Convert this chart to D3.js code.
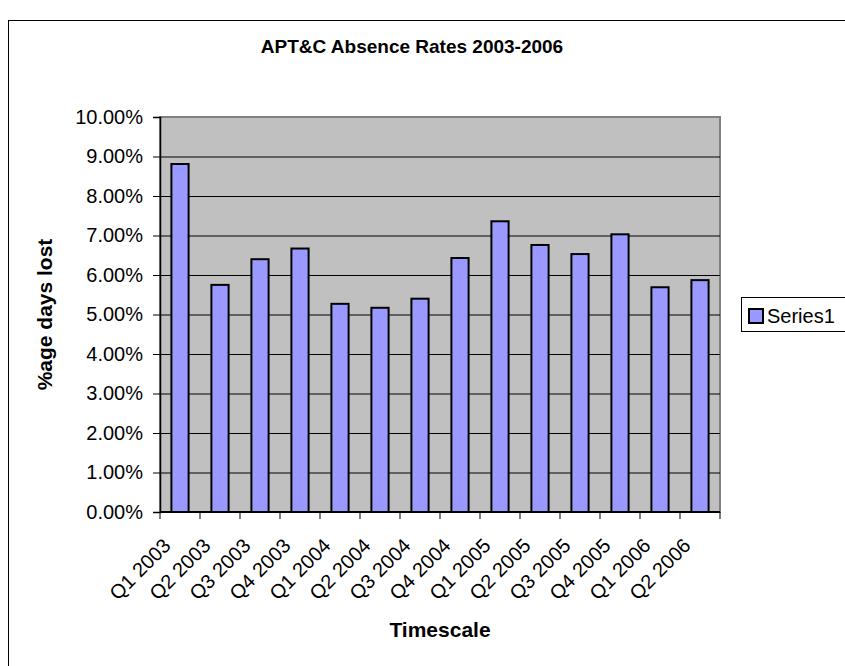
<!DOCTYPE html>
<html>
<head>
<meta charset="utf-8">
<script src="https://cdn.jsdelivr.net/npm/d3@7"></script>
<style>
  body { margin: 0; background: #fff; }
  text { font-family: "Liberation Sans", Arial, sans-serif; }
</style>
</head>
<body>
<div id="chart"></div>
<script>
var categories = ["Q1 2003","Q2 2003","Q3 2003","Q4 2003","Q1 2004","Q2 2004","Q3 2004","Q4 2004","Q1 2005","Q2 2005","Q3 2005","Q4 2005","Q1 2006","Q2 2006"];
var values = [8.81, 5.75, 6.40, 6.67, 5.27, 5.17, 5.40, 6.43, 7.36, 6.76, 6.53, 7.03, 5.69, 5.87];
var yTicks = [0, 1, 2, 3, 4, 5, 6, 7, 8, 9, 10];
var seriesName = "Series1";

var w = 845, h = 666;
var plotL = 160, plotR = 720, plotT = 117, plotB = 512;

var svg = d3.select("#chart").append("svg").attr("width", w).attr("height", h);

// chart area border (runs off the page right and bottom)
svg.append("rect").attr("x", 8.5).attr("y", 20.5).attr("width", 900).attr("height", 700)
  .attr("fill", "#fff").attr("stroke", "#000");

var x = d3.scaleBand().domain(categories).range([plotL, plotR]);
var y = d3.scaleLinear().domain([0, 10]).range([plotB, plotT]);

// plot area
svg.append("rect").attr("x", plotL).attr("y", plotT).attr("width", plotR - plotL).attr("height", plotB - plotT)
  .attr("fill", "#c0c0c0").attr("stroke", "#808080").attr("stroke-width", 2);

// gridlines
svg.selectAll(".grid").data(yTicks.slice(1, -1)).enter().append("line")
  .attr("x1", plotL).attr("x2", plotR)
  .attr("y1", function(d) { return y(d) + 0.5; })
  .attr("y2", function(d) { return y(d) + 0.5; })
  .attr("stroke", "#000").attr("stroke-width", 1);

// bars
var barW = x.bandwidth() * 0.43;
svg.selectAll(".bar").data(values).enter().append("rect")
  .attr("x", function(d, i) { return x(categories[i]) + (x.bandwidth() - barW) / 2; })
  .attr("y", function(d) { return y(d); })
  .attr("width", barW)
  .attr("height", function(d) { return plotB - y(d); })
  .attr("fill", "#9999ff").attr("stroke", "#000").attr("stroke-width", 2);

// y axis
var yAxis = svg.append("g").attr("transform", "translate(" + plotL + ",0)")
  .call(d3.axisLeft(y).tickValues(yTicks).tickSize(7).tickPadding(10)
    .tickFormat(function(d) { return d.toFixed(2) + "%"; }));
yAxis.select(".domain").attr("stroke-width", 1.5);
yAxis.selectAll("text").attr("font-size", 20).attr("fill", "#000")
  .style("font-family", "Liberation Sans, Arial, sans-serif");

// x axis line and boundary ticks
svg.append("line").attr("x1", plotL).attr("x2", plotR).attr("y1", plotB).attr("y2", plotB)
  .attr("stroke", "#000").attr("stroke-width", 2);
var bounds = categories.map(function(c) { return x(c); }).concat([x.range()[1]]);
svg.selectAll(".xtick").data(bounds).enter().append("line")
  .attr("x1", function(d) { return d; }).attr("x2", function(d) { return d; })
  .attr("y1", plotB).attr("y2", plotB + 7)
  .attr("stroke", "#000").attr("stroke-width", 1);

svg.selectAll(".xlab").data(categories).enter().append("text")
  .attr("transform", function(d) {
    return "translate(" + (x(d) + x.bandwidth() / 2 - 18) + "," + (plotB + 25) + ") rotate(-45)";
  })
  .attr("text-anchor", "end")
  .attr("dy", "0.7em")
  .attr("font-size", 20)
  .text(function(d) { return d; });

// titles
svg.append("text").attr("x", 412).attr("y", 53).attr("text-anchor", "middle")
  .attr("font-size", 19).attr("font-weight", "bold").text("APT&C Absence Rates 2003-2006");
svg.append("text").attr("x", (plotL + plotR) / 2).attr("y", 637).attr("text-anchor", "middle")
  .attr("font-size", 21).attr("font-weight", "bold").text("Timescale");
svg.append("text").attr("transform", "translate(52," + ((plotT + plotB) / 2) + ") rotate(-90)")
  .attr("text-anchor", "middle").attr("font-size", 21).attr("font-weight", "bold").text("%age days lost");

// legend
svg.append("rect").attr("x", 741.5).attr("y", 297.5).attr("width", 130).attr("height", 34)
  .attr("fill", "#fff").attr("stroke", "#000");
svg.append("rect").attr("x", 749).attr("y", 309).attr("width", 14).attr("height", 14)
  .attr("fill", "#9999ff").attr("stroke", "#000").attr("stroke-width", 2);
svg.append("text").attr("x", 767).attr("y", 323).attr("font-size", 20).text(seriesName);
</script>
</body>
</html>
